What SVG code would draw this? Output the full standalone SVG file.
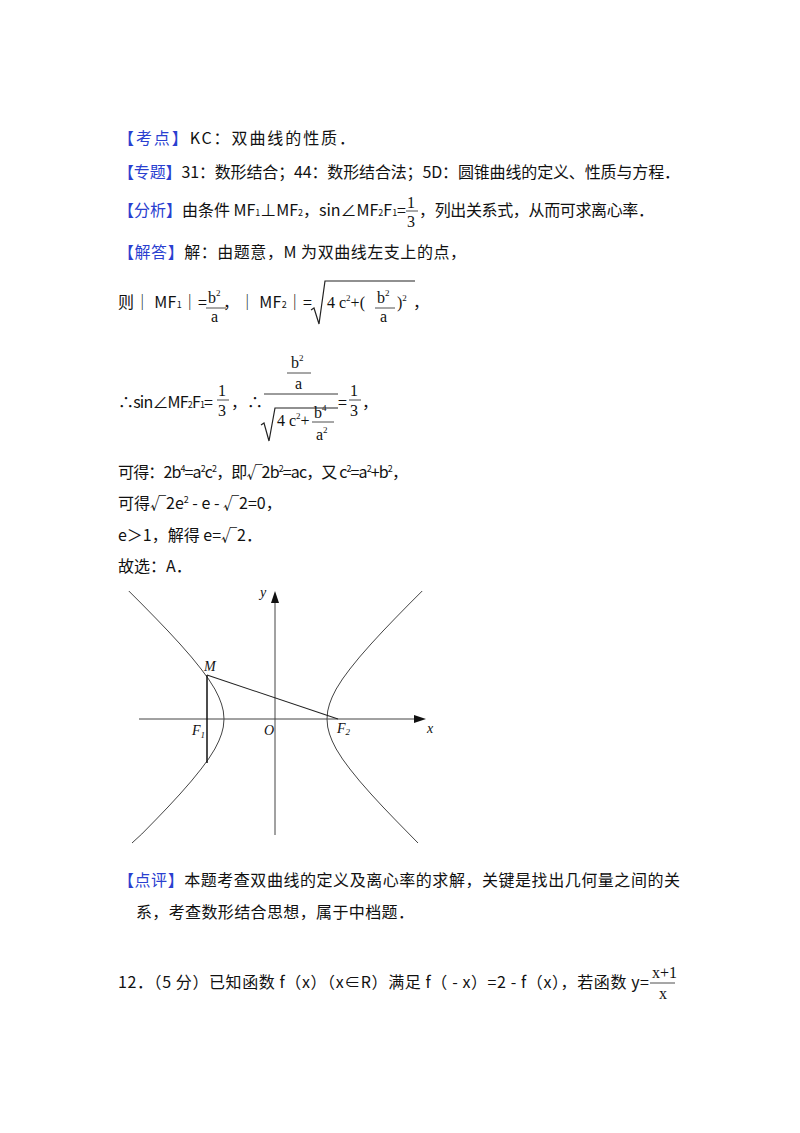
<svg xmlns="http://www.w3.org/2000/svg" width="800" height="1133" viewBox="0 0 800 1133">
<style>
text{font-family:"Noto Sans CJK SC","Noto Sans",sans-serif;font-size:16px;fill:#111}
.b{fill:#2a3fd0}
.m{font-family:"Liberation Serif",serif;font-size:16px}
.s{font-size:9px}
.i{font-family:"Liberation Serif",serif;font-style:italic;font-size:14px}
.ln{stroke:#222;stroke-width:1.2;fill:none}
.c{stroke:#444;stroke-width:1;fill:none}
</style>
<rect width="800" height="1133" fill="#fff"/>
<g id="text">
<text x="118" y="144" textLength="237" lengthAdjust="spacing"><tspan class="b">【考点】</tspan>KC：双曲线的性质．</text>
<text x="118" y="178" textLength="562" lengthAdjust="spacing"><tspan class="b">【专题】</tspan>31：数形结合；44：数形结合法；5D：圆锥曲线的定义、性质与方程．</text>
<text x="118" y="216" textLength="288" lengthAdjust="spacing"><tspan class="b">【分析】</tspan>由条件 MF<tspan class="s">1</tspan>⊥MF<tspan class="s">2</tspan>，sin∠MF<tspan class="s">2</tspan>F<tspan class="s">1</tspan>=</text>
<text class="m" x="407" y="208">1</text><line x1="406" y1="211" x2="418" y2="211" stroke="#222" stroke-width="0.8"/><text class="m" x="407" y="227">3</text>
<text x="419" y="216" textLength="235" lengthAdjust="spacing">，列出关系式，从而可求离心率．</text>
<text x="118" y="258" textLength="348" lengthAdjust="spacing"><tspan class="b">【解答】</tspan>解：由题意，M 为双曲线左支上的点，</text>
<text x="118" y="308" textLength="89" lengthAdjust="spacing">则｜ MF<tspan class="s">1</tspan>｜=</text>
<text class="m" x="208" y="303">b<tspan class="s" dy="-7">2</tspan></text><line x1="206" y1="308" x2="226" y2="308" stroke="#222" stroke-width="0.8"/><text class="m" x="211" y="322">a</text>
<text x="223" y="308" textLength="89" lengthAdjust="spacing">，｜ MF<tspan class="s">2</tspan>｜=</text>
<path class="ln" stroke-width="0.9" d="M311,310 l3,-2 l5,16 l6,-43 h90"/>
<text class="m" x="327" y="308">4 c<tspan class="s" dy="-7">2</tspan><tspan dy="7">+(</tspan></text>
<text class="m" x="377" y="303">b<tspan class="s" dy="-7">2</tspan></text><line x1="375" y1="308" x2="395" y2="308" stroke="#222" stroke-width="0.8"/><text class="m" x="380" y="322">a</text>
<text class="m" x="397" y="308">)<tspan class="s" dy="-7">2</tspan></text>
<text x="413" y="308">，</text>

<text x="118" y="408" textLength="95" lengthAdjust="spacing">∴sin∠MF<tspan class="s">2</tspan>F<tspan class="s">1</tspan>=</text>
<text class="m" x="218" y="396">1</text><line x1="217" y1="400" x2="229" y2="400" stroke="#222" stroke-width="0.8"/><text class="m" x="218" y="416">3</text>
<text x="231" y="408">，∴</text>
<text class="m" x="291" y="368">b<tspan class="s" dy="-7">2</tspan></text><line x1="287" y1="373" x2="311" y2="373" stroke="#222" stroke-width="0.8"/><text class="m" x="295" y="389">a</text>
<line x1="264" y1="394" x2="338" y2="394" stroke="#222" stroke-width="0.9"/>
<path class="ln" stroke-width="0.9" d="M261,425 l3,-2 l5,18 l6,-33 h63"/>
<text class="m" x="277" y="426">4 c<tspan class="s" dy="-7">2</tspan><tspan dy="7">+</tspan></text>
<text class="m" x="314" y="418">b<tspan class="s" dy="-7">4</tspan></text><line x1="312" y1="422" x2="334" y2="422" stroke="#222" stroke-width="0.8"/><text class="m" x="316" y="440">a<tspan class="s" dy="-7">2</tspan></text>
<text x="338" y="408">=</text>
<text class="m" x="350" y="396">1</text><line x1="349" y1="400" x2="361" y2="400" stroke="#222" stroke-width="0.8"/><text class="m" x="350" y="416">3</text>
<text x="362" y="408">，</text>

<text x="118" y="478" textLength="290" lengthAdjust="spacing">可得：2b<tspan class="s" dy="-6">4</tspan><tspan dy="6">=a</tspan><tspan class="s" dy="-6">2</tspan><tspan dy="6">c</tspan><tspan class="s" dy="-6">2</tspan><tspan dy="6">，即√2b</tspan><tspan class="s" dy="-6">2</tspan><tspan dy="6">=ac，又 c</tspan><tspan class="s" dy="-6">2</tspan><tspan dy="6">=a</tspan><tspan class="s" dy="-6">2</tspan><tspan dy="6">+b</tspan><tspan class="s" dy="-6">2</tspan><tspan dy="6">，</tspan></text>
<text x="118" y="509">可得√2e<tspan class="s" dy="-6">2</tspan><tspan dy="6"> - e - √2=0，</tspan></text>
<text x="118" y="541">e＞1，解得 e=√2．</text>
<text x="118" y="572">故选：A．</text>

<text x="118" y="886" textLength="562" lengthAdjust="spacing"><tspan class="b">【点评】</tspan>本题考查双曲线的定义及离心率的求解，关键是找出几何量之间的关</text>
<text x="136" y="918" textLength="278" lengthAdjust="spacing">系，考查数形结合思想，属于中档题．</text>
<text x="118" y="988" textLength="531" lengthAdjust="spacing">12．（5 分）已知函数 f（x）（x∈R）满足 f（ - x）=2 - f（x），若函数 y=</text>
<text class="m" x="652" y="978" font-size="13">x+1</text><line x1="650" y1="983" x2="675" y2="983" stroke="#222" stroke-width="0.8"/><text class="m" x="659" y="999" font-size="13">x</text>
</g>
<g id="axes">
<line class="c" x1="139" y1="719" x2="418" y2="719"/>
<polygon points="426,719 414,715 414,723" fill="#111"/>
<line class="c" x1="275" y1="835" x2="275" y2="600"/>
<polygon points="275,591 271,603 279,603" fill="#111"/>
</g>
<g id="curves">
<polyline class="c" points="128.8,591 141.8,604 156.5,619 168,631 180,644 191.4,657 201.1,669 208.5,679 214.8,689 218.8,697 221.5,704 223.3,711 224,719 223.3,727 221.5,734 218.8,741 214.8,749 208.5,759 201.1,769 191.4,781 180,794 168,807 156.5,819 141.8,834 132,843"/>
<polyline class="c" points="422.2,591 409.2,604 394.5,619 383,631 371,644 359.6,657 349.9,669 342.5,679 336.2,689 332.2,697 329.5,704 327.7,711 327,719 327.7,727 329.5,734 332.2,741 336.2,749 342.5,759 349.9,769 359.6,781 371,794 383,807 394.5,819 409.2,834 418,843"/>
</g>
<g id="triangle">
<line x1="207" y1="675" x2="207" y2="763" stroke="#111" stroke-width="1.5"/>
<line x1="207" y1="675" x2="338" y2="719" stroke="#222" stroke-width="1.1"/>
</g>
<g id="labels">
<text class="i" x="204" y="671">M</text>
<text class="i" x="192" y="735">F<tspan font-size="9" dy="3">1</tspan></text>
<text class="i" x="264" y="735">O</text>
<text class="i" x="337" y="733">F<tspan font-size="9" dy="2">2</tspan></text>
<text class="i" x="427" y="733">x</text>
<text class="i" x="260" y="597">y</text>
</g>
</svg>
